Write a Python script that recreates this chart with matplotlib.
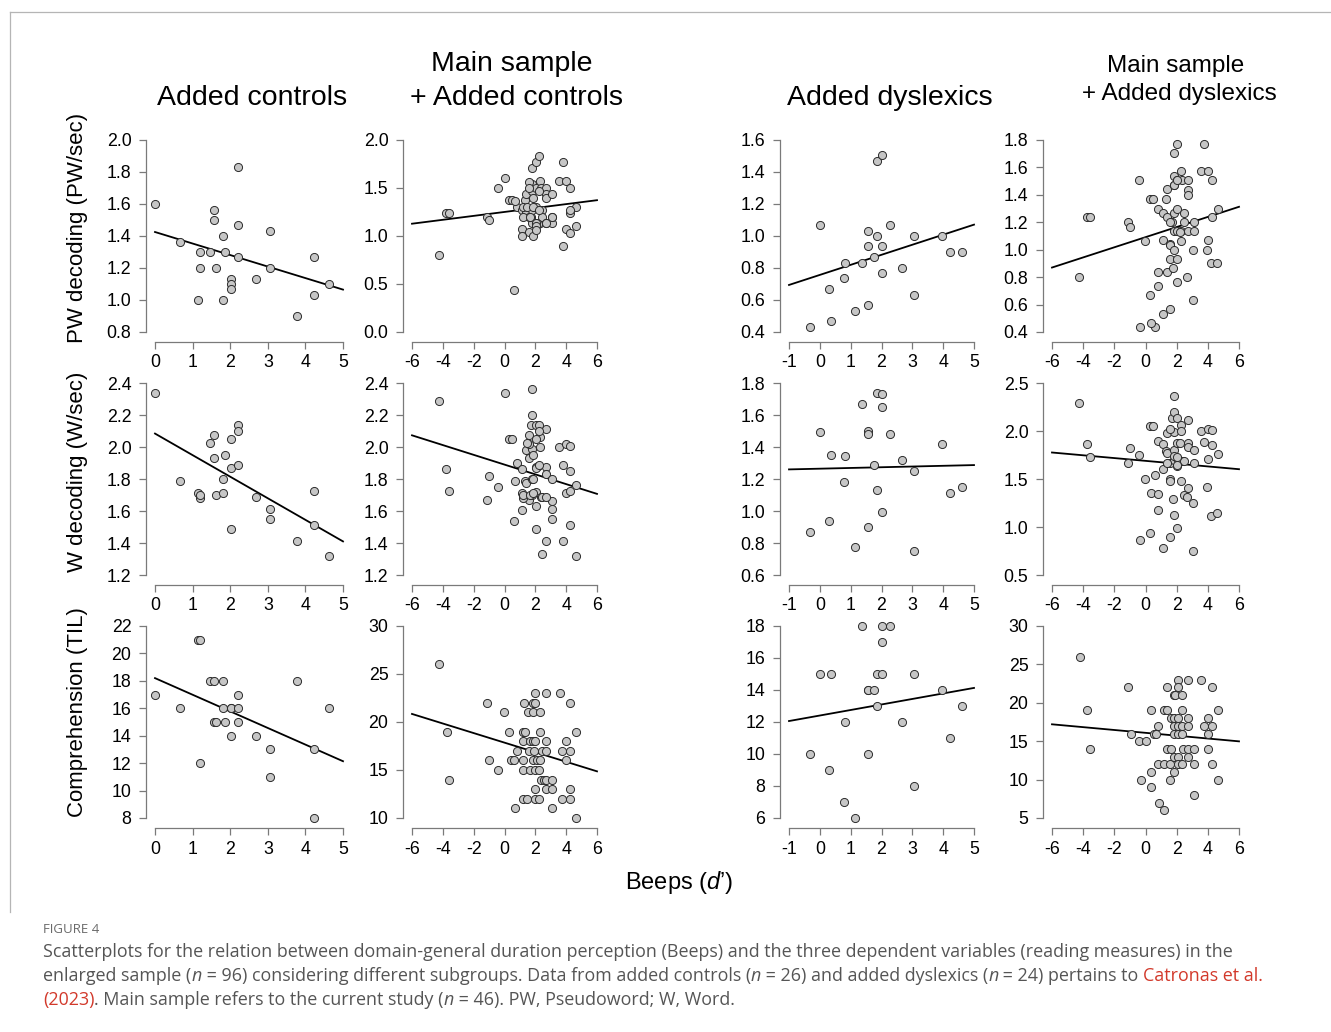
import matplotlib
matplotlib.use("Agg")
import matplotlib.pyplot as plt
from matplotlib.lines import Line2D

W, H = 1331, 1032

# ---- added controls (beeps d', PW, W, comprehension) ----
ctrl_x = [0.00, 0.67, 1.15, 1.20, 1.20, 1.47, 1.56, 1.56, 1.63, 1.82, 1.85, 1.82, 2.03,
          2.03, 2.03, 2.21, 2.21, 2.21, 2.68, 3.07, 3.07, 3.77, 4.24, 4.24, 4.62]
ctrl_pw = [1.60, 1.365, 1.00, 1.30, 1.20, 1.30, 1.565, 1.50, 1.20, 1.40, 1.30, 1.00, 1.133,
           1.10, 1.067, 1.833, 1.467, 1.267, 1.133, 1.433, 1.20, 0.90, 1.267, 1.033, 1.10]
ctrl_w = [2.34, 1.785, 1.71, 1.68, 1.70, 2.026, 2.077, 1.93, 1.70, 1.80, 1.95, 1.71, 2.05,
          1.87, 1.49, 2.14, 2.10, 1.885, 1.69, 1.61, 1.55, 1.415, 1.725, 1.51, 1.317]
ctrl_comp = [17, 16, 21, 21, 12, 18, 18, 15, 15, 18, 15, 16, 16,
             14, 16, 17, 16, 15, 14, 13, 11, 18, 13, 8, 16]

# ---- added dyslexics ----
dys_x = [-0.33, -0.01, 0.30, 0.35, 0.82, 0.79, 1.14, 1.37, 1.55, 1.55, 1.55, 1.76,
         1.85, 1.85, 2.02, 2.02, 2.02, 2.29, 2.66, 3.07, 3.07, 3.97, 4.23, 4.62]
dys_pw = [0.434, 1.067, 0.667, 0.467, 0.834, 0.736, 0.534, 0.834, 1.033, 0.935, 0.568, 0.867,
          1.00, 1.47, 1.506, 0.935, 0.767, 1.067, 0.80, 1.00, 0.634, 1.00, 0.90, 0.90]
dys_w = [0.868, 1.496, 0.935, 1.352, 1.345, 1.18, 0.778, 1.668, 1.50, 1.484, 0.90, 1.29,
         1.735, 1.13, 1.73, 1.65, 0.994, 1.484, 1.316, 1.25, 0.75, 1.418, 1.11, 1.15]
dys_comp = [10, 15, 9, 15, 12, 7, 6, 18, 14, 10, 14, 14,
            13, 15, 18, 17, 15, 18, 12, 15, 8, 14, 11, 13]

# ---- main sample (PW, W) ----
main_x = [-4.27, -3.77, -3.58, -1.15, -0.98, -0.39, 0.32, 0.49, 0.62, 0.82,
          1.12, 1.12, 1.32, 1.38, 1.38, 1.58, 1.71, 1.81, 1.81, 1.81,
          1.81, 1.81, 2.03, 2.03, 2.03, 2.03, 2.29, 2.29, 2.35, 2.44,
          2.44, 2.70, 2.70, 2.70, 2.70, 3.09, 3.09, 3.55, 3.78, 4.00,
          4.00, 4.26, 4.26, 4.65, 1.60, 2.20]
main_pw = [0.80, 1.238, 1.238, 1.203, 1.169, 1.505, 1.371, 1.371, 0.436, 1.30,
           1.27, 1.07, 1.371, 1.44, 1.24, 1.04, 1.20, 1.705, 1.54, 1.47,
           1.27, 1.14, 1.77, 1.505, 1.30, 1.14, 1.571, 1.14, 1.505, 1.27,
           1.20, 1.505, 1.437, 1.40, 1.14, 1.14, 1.20, 1.571, 1.77, 1.571,
           1.07, 1.505, 1.238, 1.30, 1.20, 1.13]
main_w = [2.29, 1.86, 1.724, 1.668, 1.82, 1.75, 2.05, 2.05, 1.54, 1.90,
          1.86, 1.606, 1.79, 1.98, 1.775, 1.67, 2.14, 2.365, 2.20, 1.99,
          1.80, 1.70, 2.14, 1.876, 1.72, 1.634, 2.06, 1.997, 1.69, 1.69,
          1.33, 2.11, 1.876, 1.83, 1.41, 1.665, 1.80, 2.00, 1.89, 2.02,
          1.71, 2.007, 1.85, 1.765, 2.02, 1.88]

# ---- comprehension, combined samples (read directly) ----
comp_mc_x = [-4.25, -3.76, -3.59, -1.16, -0.99, -0.42, -0.01, 0.31, 0.39, 0.61,
             0.67, 0.78, 1.18, 1.35, 1.18, 1.18, 1.18, 1.18, 1.29, 1.48,
             1.50, 1.57, 1.65, 1.65, 1.82, 1.82, 1.82, 1.82, 1.89, 1.97,
             2.01, 2.01, 2.01, 2.01, 2.01, 2.12, 2.21, 2.21, 2.29, 2.29,
             2.29, 2.42, 2.38, 2.53, 2.67, 2.67, 2.67, 2.67, 2.67, 3.06,
             3.06, 3.06, 3.57, 3.76, 3.76, 3.97, 3.97, 4.23, 4.23, 4.23,
             4.23, 4.64, 4.64]
comp_mc_y = [26, 19, 14, 22, 16, 15, 21, 19, 16, 16,
             11, 17, 19, 19, 18, 16, 15, 12, 22, 12,
             21, 17, 18, 15, 22, 21, 18, 16, 17, 12,
             23, 22, 18, 15, 13, 16, 12, 15, 21, 19,
             16, 17, 14, 14, 23, 18, 17, 13, 14, 14,
             13, 11, 23, 17, 12, 18, 16, 17, 22, 13,
             12, 19, 10]
comp_md_x = [-4.22, -3.76, -3.57, -1.15, -0.96, -0.41, 0.01, -0.31, 0.33, 0.37,
             0.33, 0.52, 0.65, 0.81, 0.81, 0.86, 1.17, 1.17, 1.17, 1.36,
             1.36, 1.36, 1.56, 1.56, 1.66, 1.66, 1.81, 1.87, 1.81, 1.81,
             1.81, 1.81, 1.85, 2.06, 2.06, 2.06, 2.06, 2.06, 2.06, 2.06,
             2.34, 2.34, 2.34, 2.34, 2.34, 2.42, 2.74, 2.74, 2.74, 2.74,
             2.74, 3.10, 3.10, 3.14, 3.59, 3.78, 4.01, 4.01, 4.01, 4.26,
             4.26, 4.26, 4.65, 4.65]
comp_md_y = [26, 19, 14, 22, 16, 15, 15, 10, 19, 11,
             9, 16, 16, 17, 12, 7, 12, 6, 19, 19,
             22, 14, 12, 10, 14, 18, 21, 21, 18, 17,
             16, 13, 11, 23, 22, 18, 17, 16, 13, 12,
             21, 19, 17, 16, 12, 14, 23, 18, 17, 14,
             13, 14, 12, 8, 23, 17, 18, 16, 14, 22,
             17, 12, 19, 10]

# regression line values at left / right end of x axis, row by row
fit_left = [1.425, 1.128, 0.694, 0.870, 2.084, 2.073, 1.260, 1.776, 18.2, 20.84, 12.06, 17.2]
fit_right = [1.065, 1.373, 1.071, 1.313, 1.410, 1.707, 1.287, 1.602, 12.14, 14.86, 14.13, 14.98]

row_labels = ["PW decoding (PW/sec)", "W decoding (W/sec)", "Comprehension (TIL)"]

x_ticks = [[0, 1, 2, 3, 4, 5], [-6, -4, -2, 0, 2, 4, 6],
           [-1, 0, 1, 2, 3, 4, 5], [-6, -4, -2, 0, 2, 4, 6]]
y_ticks = [
    [0.8, 1.0, 1.2, 1.4, 1.6, 1.8, 2.0], [0.0, 0.5, 1.0, 1.5, 2.0],
    [0.4, 0.6, 0.8, 1.0, 1.2, 1.4, 1.6], [0.4, 0.6, 0.8, 1.0, 1.2, 1.4, 1.6, 1.8],
    [1.2, 1.4, 1.6, 1.8, 2.0, 2.2, 2.4], [1.2, 1.4, 1.6, 1.8, 2.0, 2.2, 2.4],
    [0.6, 0.8, 1.0, 1.2, 1.4, 1.6, 1.8], [0.5, 1.0, 1.5, 2.0, 2.5],
    [8, 10, 12, 14, 16, 18, 20, 22], [10, 15, 20, 25, 30],
    [6, 8, 10, 12, 14, 16, 18], [5, 10, 15, 20, 25, 30],
]

panel_data = [
    (ctrl_x, ctrl_pw), (main_x + ctrl_x, main_pw + ctrl_pw),
    (dys_x, dys_pw), (main_x + dys_x, main_pw + dys_pw),
    (ctrl_x, ctrl_w), (main_x + ctrl_x, main_w + ctrl_w),
    (dys_x, dys_w), (main_x + dys_x, main_w + dys_w),
    (ctrl_x, ctrl_comp), (comp_mc_x, comp_mc_y),
    (dys_x, dys_comp), (comp_md_x, comp_md_y),
]

# pixel positions of first / last tick of each column and row
COL_PX = [(155, 343), (412, 597), (789, 974), (1052, 1239)]
ROW_PX = [(140, 332), (383, 575), (626, 818)]

plt.rcParams["font.family"] = ["Liberation Sans", "DejaVu Sans"]
plt.rcParams["mathtext.fontset"] = "custom"
plt.rcParams["mathtext.it"] = "Liberation Sans:italic"
plt.rcParams["mathtext.rm"] = "Liberation Sans"

fig = plt.figure(figsize=(W / 100, H / 100), dpi=100)
AXIS_GREY = "#7a7a7a"


def fx(px):
    return px / W


def fy(py):
    return 1 - py / H


for i, (xs, ys) in enumerate(panel_data):
    r, c = divmod(i, 4)
    x0, x1 = COL_PX[c]
    y0, y1 = ROW_PX[r]
    left, right, top, bottom = x0 - 9, x1 + 9, y0 - 9, y1 + 10
    ax = fig.add_axes([fx(left), fy(bottom), (right - left) / W, (bottom - top) / H])
    xt, yt = x_ticks[c], y_ticks[i]
    sx = (x1 - x0) / (xt[-1] - xt[0])
    sy = (y1 - y0) / (yt[-1] - yt[0])
    ax.set_xlim(xt[0] - 9 / sx, xt[-1] + 9 / sx)
    ax.set_ylim(yt[0] - 10 / sy, yt[-1] + 9 / sy)

    ax.plot([xt[0], xt[-1]], [fit_left[i], fit_right[i]], color="black", lw=1.3, zorder=2)
    ax.scatter(xs, ys, s=34, facecolor="#c6c6c6", edgecolor="#2b2b2b",
               linewidth=0.7, zorder=3, clip_on=False)

    for side in ("top", "right"):
        ax.spines[side].set_visible(False)
    for side in ("left", "bottom"):
        ax.spines[side].set_color(AXIS_GREY)
        ax.spines[side].set_linewidth(0.9)
    ax.spines["left"].set_bounds(yt[0], yt[-1])
    ax.spines["bottom"].set_bounds(xt[0], xt[-1])

    ax.set_xticks(xt)
    ax.set_xticklabels([str(v) for v in xt])
    ax.set_yticks(yt)
    if r == 2:
        ax.set_yticklabels([str(v) for v in yt])
    else:
        ax.set_yticklabels([f"{v:.1f}" for v in yt])
    ax.tick_params(direction="out", length=5, width=0.9, color=AXIS_GREY,
                   labelsize=12.8, labelcolor="black")
    ax.tick_params(axis="x", pad=4)
    ax.tick_params(axis="y", pad=5.5)

# column titles
fig.text(fx(252), fy(98), "Added controls", fontsize=20.5, ha="center", va="center")
fig.text(fx(512), fy(64), "Main sample", fontsize=20.5, ha="center", va="center")
fig.text(fx(516), fy(98), "+ Added controls", fontsize=20.5, ha="center", va="center")
fig.text(fx(890), fy(98), "Added dyslexics", fontsize=20.5, ha="center", va="center")
fig.text(fx(1176), fy(66), "Main sample", fontsize=17.5, ha="center", va="center")
fig.text(fx(1179), fy(94), "+ Added dyslexics", fontsize=17.5, ha="center", va="center")

for lab, yc in zip(row_labels, [228, 472, 712]):
    fig.text(fx(78), fy(yc), lab, fontsize=16, rotation=90, ha="center", va="center")

fig.text(fx(679), fy(883), "Beeps ($\\it{d}$\u2019)", fontsize=17, ha="center", va="center")

# frame lines
fig.add_artist(Line2D([fx(10), 1], [fy(12), fy(12)], color="#b5b5b5", lw=0.9))
fig.add_artist(Line2D([fx(10), fx(10)], [fy(12), fy(912)], color="#b5b5b5", lw=0.9))

# caption
CAP_GREY = "#555555"
CAP_RED = "#d2392b"
CAP_SIZE = 12.83
renderer = fig.canvas.get_renderer()


def seg_width(text, **kw):
    t = fig.text(0, 0, text + "|", **kw)
    b = fig.text(0, 0, "|", **kw)
    w = t.get_window_extent(renderer).width - b.get_window_extent(renderer).width
    t.remove()
    b.remove()
    return w


def caption_line(xp, yp, segments):
    for text, color, style in segments:
        kw = dict(fontsize=CAP_SIZE, color=color, style=style, family="Open Sans")
        fig.text(fx(xp), fy(yp), text, va="baseline", ha="left", **kw)
        xp += seg_width(text, **kw)


fig.text(fx(43), fy(933), "FIGURE 4", fontsize=9.5, color="#6a6a6a",
         family="Open Sans", va="baseline")
caption_line(43, 957, [
    ("Scatterplots for the relation between domain-general duration perception (Beeps) "
     "and the three dependent variables (reading measures) in the", CAP_GREY, "normal")])
caption_line(43, 981, [
    ("enlarged sample (", CAP_GREY, "normal"), ("n", CAP_GREY, "italic"),
    (" = 96) considering different subgroups. Data from added controls (", CAP_GREY, "normal"),
    ("n", CAP_GREY, "italic"), (" = 26) and added dyslexics (", CAP_GREY, "normal"),
    ("n", CAP_GREY, "italic"), (" = 24) pertains to ", CAP_GREY, "normal"),
    ("Catronas et al.", CAP_RED, "normal")])
caption_line(43, 1005, [
    ("(2023)", CAP_RED, "normal"),
    (". Main sample refers to the current study (", CAP_GREY, "normal"),
    ("n", CAP_GREY, "italic"), (" = 46). PW, Pseudoword; W, Word.", CAP_GREY, "normal")])

fig.savefig("out.png", dpi=100)
